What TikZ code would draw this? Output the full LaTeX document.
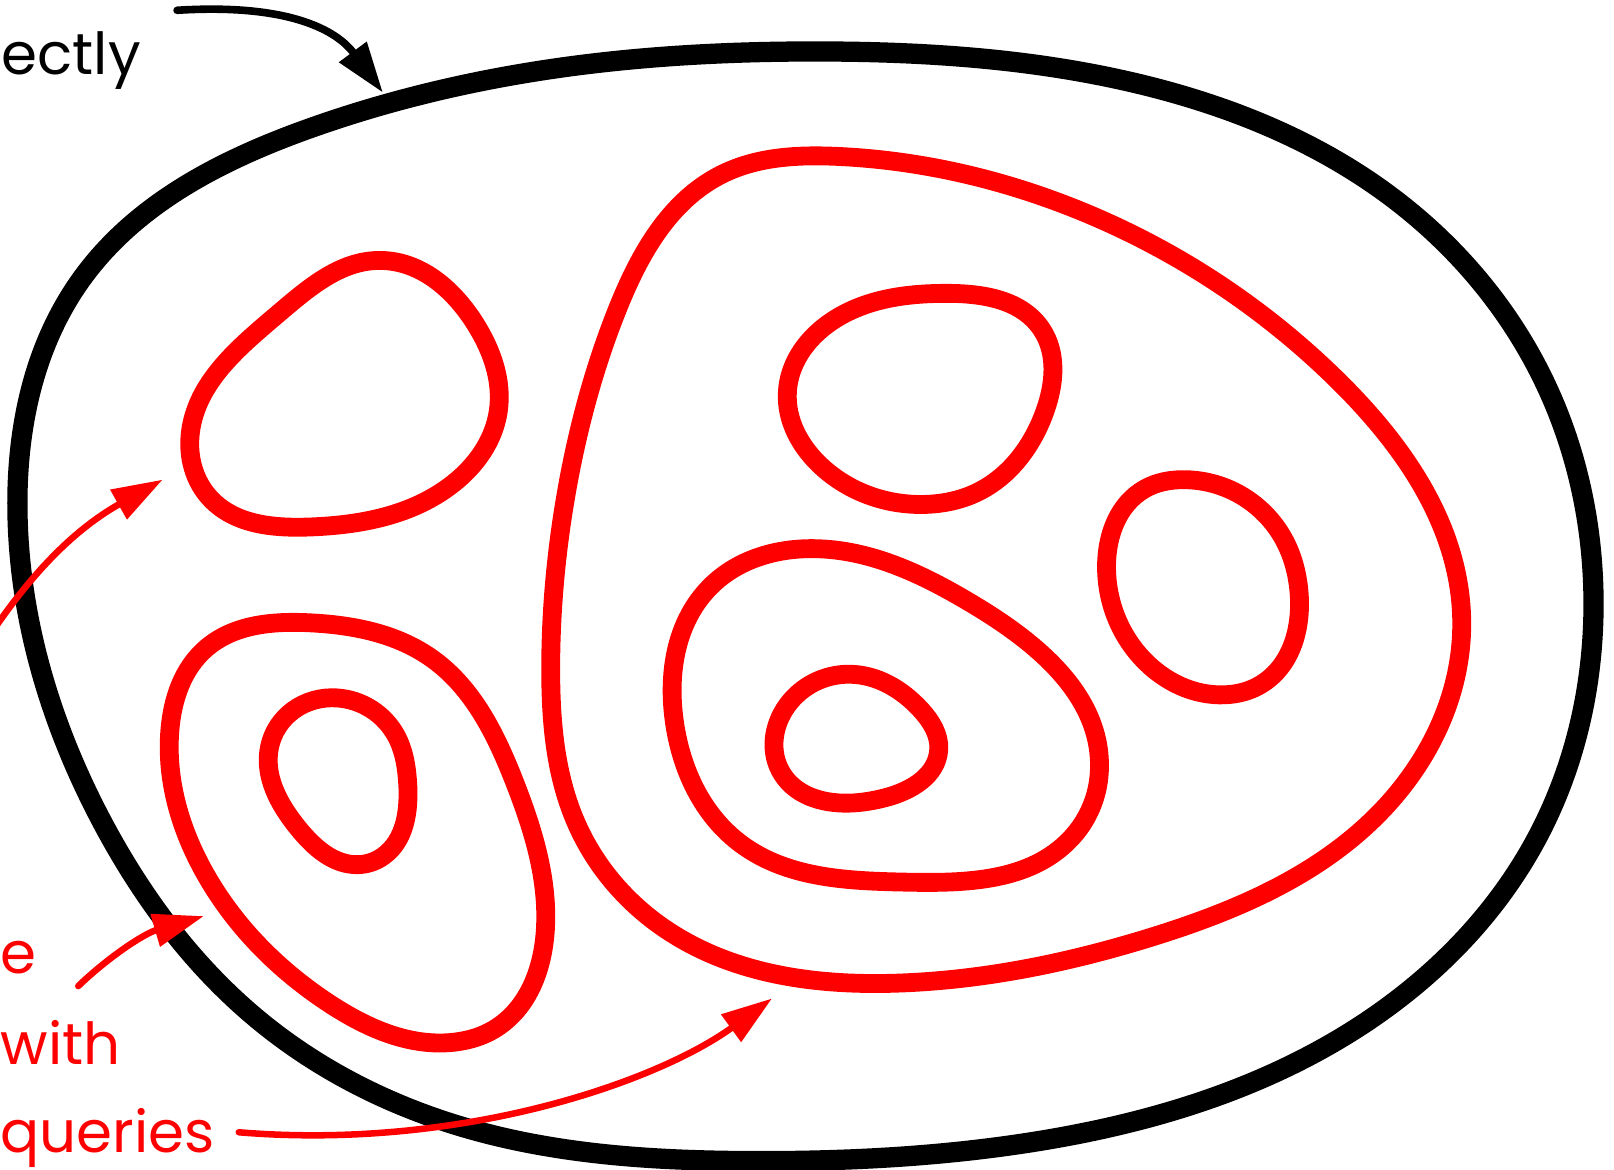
\documentclass[tikz,border=0pt]{standalone}
\usepackage{fontspec}
\setmainfont{Poppins}
\usetikzlibrary{arrows.meta,hobby}

\begin{document}
\begin{tikzpicture}[x=0.01cm, y=-0.01cm, line join=round, line cap=round,
    outer/.style={black, line width=5.6pt, use Hobby shortcut, closed=true},
    region/.style={red, line width=5.2pt, use Hobby shortcut, closed=true},
    pointer/.style={red, line width=1.8pt, -{Triangle[length=14pt,width=9pt]}},
    txt/.style={inner sep=0pt, font=\fontsize{16}{20}\selectfont}]
    \useasboundingbox (0,0) rectangle (1568,1136);
    \clip (0,0) rectangle (1568,1136);

    % outer set
    \draw[outer] (795,50) .. (1100,80) .. (1350,190) .. (1500,370) .. (1548,575)
      .. (1490,820) .. (1300,1010) .. (1000,1110) .. (730,1128) .. (450,1095)
      .. (250,990) .. (100,800) .. (17,500) .. (80,270) .. (300,125) .. (550,65);

    % regions
    \draw[region] (369,253) .. (462,315) .. (484,400) .. (440,470) .. (300,512)
      .. (205,485) .. (185,420) .. (270,305);
    \draw[region] (815,152) .. (1050,205) .. (1300,370) .. (1420,600) .. (1340,790)
      .. (1120,910) .. (875,955) .. (650,905) .. (560,800) .. (535,650) .. (550,480)
      .. (600,300) .. (700,170);
    \draw[region] (920,285) .. (1012,320) .. (1015,400) .. (950,478) .. (900,490)
      .. (800,455) .. (765,380) .. (820,305);
    \draw[region] (1150,466) .. (1245,520) .. (1262,575) .. (1225,665) .. (1190,675)
      .. (1110,640) .. (1075,550) .. (1112,475);
    \draw[region] (790,533) .. (950,590) .. (1068,750) .. (1040,815) .. (880,857)
      .. (720,820) .. (655,700) .. (690,570);
    \draw[region] (825,655) .. (895,690) .. (912,728) .. (860,775) .. (830,780)
      .. (760,752) .. (765,685);
    \draw[region] (300,605) .. (420,640) .. (500,760) .. (530,900) .. (480,1000)
      .. (445,1012) .. (320,975) .. (200,850) .. (165,710) .. (200,630);
    \draw[region] (327,678) .. (385,715) .. (396,760) .. (372,832) .. (348,840)
      .. (290,805) .. (262,725) .. (285,690);

    % labels
    \node[txt, anchor=base west] (top) at (1,72) {ectly};
    \node[txt, anchor=base west, red] (lineA) at (0,946) {e};
    \node[txt, anchor=base west, red] (lineB) at (0,1034) {with};
    \node[txt, anchor=base west, red] (lineC) at (0,1120) {queries};

    \coordinate (topfrom) at (172,10);
    \coordinate (topto) at (372,90);
    \coordinate (redfromA) at (-5,610);
    \coordinate (redtoA) at (158,466);
    \coordinate (redfromB) at (76,958);
    \coordinate (redtoB) at (198,890);
    \coordinate (redfromC) at (232,1100);
    \coordinate (redtoC) at (750,970);

    % arrows
    \draw[black, line width=2.1pt, -{Triangle[length=14pt,width=9pt]}]
      (topfrom) .. controls (300,2) and (335,40) .. (topto);
    \draw[pointer] (redfromA) .. controls (40,545) and (80,510) .. (redtoA);
    \draw[pointer] (redfromB) .. controls (105,930) and (140,907) .. (redtoB);
    \draw[pointer] (redfromC) .. controls (450,1118) and (640,1050) .. (redtoC);
\end{tikzpicture}
\end{document}
